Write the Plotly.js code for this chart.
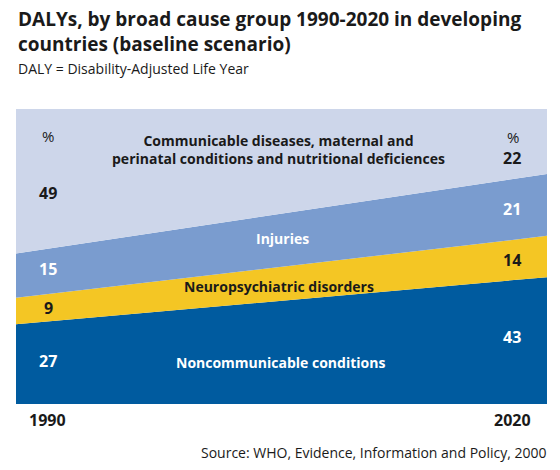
<!DOCTYPE html>
<html>
<head>
<meta charset="utf-8">
<script src="https://cdn.plot.ly/plotly-3.0.1.min.js"></script>
<style>html,body{margin:0;padding:0;background:#fff;}#chart{width:560px;height:470px;}</style>
</head>
<body>
<div id="chart"></div>
<script>
// ---- data ----
const years = [1990, 2020];
const seriesNames = [
  "Noncommunicable conditions",
  "Neuropsychiatric disorders",
  "Injuries",
  "Communicable diseases, maternal and<br>perinatal conditions and nutritional deficiences"
];
const noncommunicable = [27, 43];
const neuropsychiatric = [9, 14];
const injuries = [15, 21];
const communicable = [49, 22];
const yearLabels = ["1990", "2020"];

// ---- styles ----
const colors = ["#005b9f", "#f4c624", "#7a9ccf", "#cdd6ea"];
const labelColors = ["#ffffff", "#1a1a1a", "#ffffff", "#1a1a1a"];
const valueColors = ["#ffffff", "#1a1a1a", "#ffffff", "#1a1a1a"];
const FONT = "Open Sans, sans-serif";

const seriesValues = [noncommunicable, neuropsychiatric, injuries, communicable];

const traces = seriesValues.map((vals, i) => ({
  x: years,
  y: vals,
  type: "scatter",
  mode: "none",
  stackgroup: "one",
  fillcolor: colors[i],
  line: {width: 0},
  name: seriesNames[i],
  hoverinfo: "skip"
}));

// plot area in pixels (for placing labels)
const L = 16, R = 547, T = 109, B = 404;
const px = x => (x - L) / (R - L);
const py = y => (B - y) / (B - T);

const annotations = [];
// title
annotations.push({
  text: "DALYs, by broad cause group 1990-2020 in developing<br>countries (baseline scenario)",
  xref: "paper", yref: "paper", x: px(16), y: py(4), xanchor: "left", yanchor: "top",
  align: "left", showarrow: false,
  font: {family: FONT, size: 19, color: "#1a1a1a", weight: "bold"}
});
// series name labels (pixel positions)
const namePos = [[280, 362], [279, 286], [282, 238], [278, 149]];
seriesNames.forEach((n, i) => {
  annotations.push({
    text: n, xref: "paper", yref: "paper", x: px(namePos[i][0]), y: py(namePos[i][1]),
    xanchor: "center", yanchor: "middle", showarrow: false,
    font: {family: FONT, size: 14, color: labelColors[i], weight: "bold"}
  });
});
// value labels
const valY = [[361, 337], [308, 260], [269, 209], [193, 158]];
const valX = [48, 512];
seriesValues.forEach((vals, i) => {
  vals.forEach((v, j) => {
    annotations.push({
      text: String(v), xref: "paper", yref: "paper", x: px(valX[j]), y: py(valY[i][j]),
      xanchor: "center", yanchor: "middle", showarrow: false,
      font: {family: FONT, size: 16, color: valueColors[i], weight: "bold"}
    });
  });
});
// percent signs
[[48, 136], [513, 137]].forEach(p => annotations.push({
  text: "%", xref: "paper", yref: "paper", x: px(p[0]), y: py(p[1]),
  xanchor: "center", yanchor: "middle", showarrow: false,
  font: {family: FONT, size: 15, color: "#1a1a1a"}
}));
// year labels
yearLabels.forEach((t, j) => annotations.push({
  text: t, xref: "paper", yref: "paper", x: px([47, 512][j]), y: py(420),
  xanchor: "center", yanchor: "middle", showarrow: false,
  font: {family: FONT, size: 16, color: "#1a1a1a", weight: "bold"}
}));
// subtitle
annotations.push({
  text: "DALY = Disability-Adjusted Life Year", xref: "paper", yref: "paper",
  x: px(16), y: py(68), xanchor: "left", yanchor: "middle", showarrow: false,
  font: {family: FONT, size: 14, color: "#1a1a1a"}
});
// source
annotations.push({
  text: "Source: WHO, Evidence, Information and Policy, 2000", xref: "paper", yref: "paper",
  x: px(549), y: py(452), xanchor: "right", yanchor: "middle", showarrow: false,
  font: {family: FONT, size: 14, color: "#1a1a1a"}
});

const layout = {
  width: 560, height: 470,
  margin: {l: L, r: 560 - R, t: T, b: 470 - B},
  paper_bgcolor: "#ffffff", plot_bgcolor: "#ffffff",
  showlegend: false,
  xaxis: {range: [1990, 2020], visible: false, fixedrange: true},
  yaxis: {range: [0, 100], visible: false, fixedrange: true},
  annotations: annotations
};

Plotly.newPlot("chart", traces, layout, {displayModeBar: false, staticPlot: true});
</script>
</body>
</html>
